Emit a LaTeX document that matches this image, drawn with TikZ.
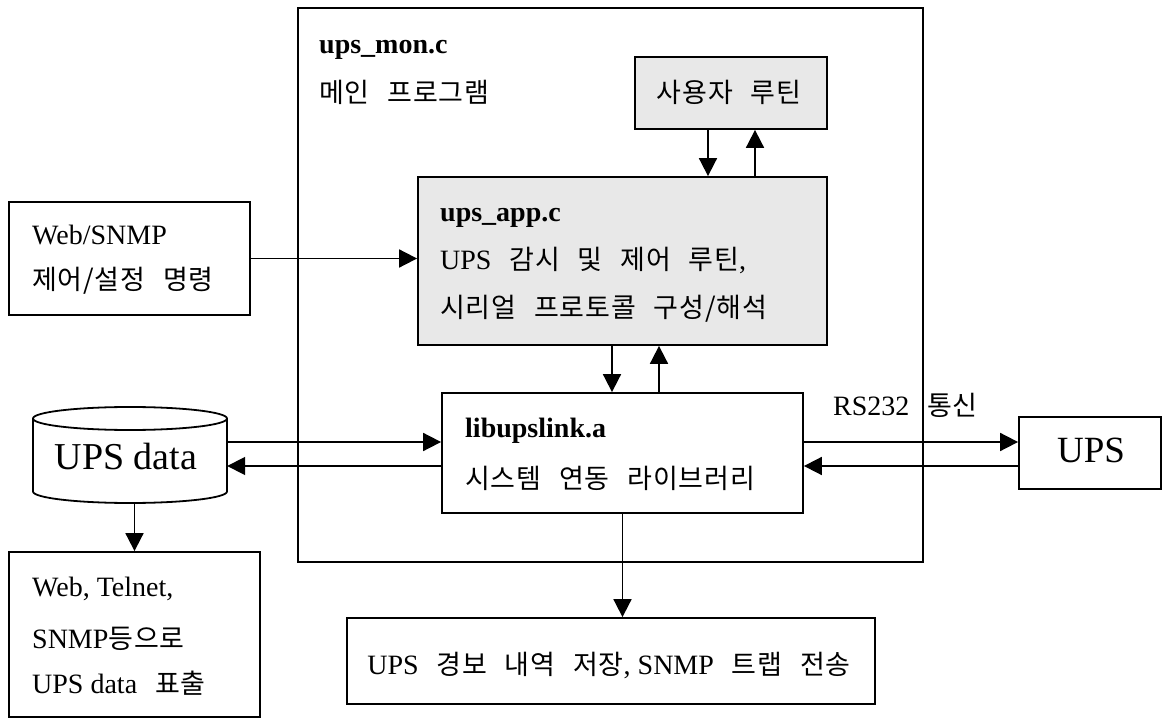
\documentclass[tikz,border=0pt]{standalone}
\usepackage{fontspec}
\setmainfont{Liberation Serif}
\newfontfamily\krfont[WordSpace=2.6,LetterSpace=3]{Noto Sans CJK KR}
\newcommand\K[1]{{\krfont\fontsize{27}{30}\selectfont #1}}
\usetikzlibrary{arrows.meta}
\definecolor{boxgrey}{RGB}{232,232,232}
\tikzset{
  box/.style={draw, line width=1.8pt, fill=white, rectangle, inner sep=0pt},
  greybox/.style={box, fill=boxgrey},
  lbl/.style={anchor=base west, inner sep=0pt},
  clbl/.style={anchor=base, inner sep=0pt},
  arr/.style={-{Triangle[length=18pt,width=18pt]}, line width=1.8pt},
}
\begin{document}
\begin{tikzpicture}[x=1pt, y=-1pt, font=\fontsize{28}{32}\selectfont]
\useasboundingbox (0,0) rectangle (1163,719);

% main program frame
\node[box, minimum width=625pt, minimum height=554pt] (mon) at (610.5,285) {};

% inner modules
\node[greybox, minimum width=192pt, minimum height=72pt] (user) at (731,93) {};
\node[greybox, minimum width=409pt, minimum height=168pt] (app) at (622.5,261) {};
\node[box, minimum width=361pt, minimum height=120pt] (lib) at (622.5,453) {};

% outside blocks
\node[box, minimum width=241pt, minimum height=113pt] (web) at (129.5,258.5) {};
\node[box, minimum width=251pt, minimum height=165pt] (tel) at (134.5,634.5) {};
\node[box, minimum width=142pt, minimum height=72pt] (ups) at (1090,453) {};
\node[box, minimum width=528pt, minimum height=86pt] (alarm) at (611,661) {};

% data store (cylinder)
\node[minimum width=194pt, minimum height=96pt, inner sep=0pt] (db) at (130,455) {};
\draw[line width=1.8pt, fill=white]
  (33,418.5) -- (33,491.5)
  .. controls (33,497.85) and (76.45,503) .. (130,503)
  .. controls (183.55,503) and (227,497.85) .. (227,491.5)
  -- (227,418.5);
\draw[line width=1.8pt, fill=white] (130,418.5) ellipse [x radius=97, y radius=11.5];

% texts
\node[lbl] (tmon) at (319,54) {\bfseries ups\_mon.c};
\node[lbl] (tmain) at (319,103) {\K{메인 프로그램}};
\node[clbl] (tuser) at (729,103) {\K{사용자 루틴}};
\node[lbl] (tapp) at (440,222) {\bfseries ups\_app.c};
\node[lbl] (tapp2) at (440,270) {UPS\K{ 감시 및 제어 루틴},};
\node[lbl] (tapp3) at (440,318) {\K{시리얼 프로토콜 구성/해석}};
\node[lbl] (tlib) at (465,438) {\bfseries libupslink.a};
\node[lbl] (tlib2) at (465,488) {\K{시스템 연동 라이브러리}};
\node[lbl] (tweb) at (32,245) {Web/SNMP};
\node[lbl] (tweb2) at (32,290) {\K{제어/설정 명령}};
\node[clbl] (tdb) at (126,470) {\fontsize{38}{40}\selectfont UPS data};
\node[lbl] (ttel) at (32,596) {Web, Telnet,};
\node[lbl] (ttel2) at (32,648) {SNMP\K{등으로}};
\node[lbl] (ttel3) at (32,693) {UPS data\K{ 표출}};
\node[lbl] (trs) at (833,416) {RS232\K{ 통신}};
\node[clbl] (tups) at (1091,463) {\fontsize{37}{40}\selectfont UPS};
\node[clbl] (talarm) at (609,674) {UPS\K{ 경보 내역 저장}, SNMP\K{ 트랩 전송}};

% connectors
\draw[arr] ([xshift=-23pt]user.south) -- ([xshift=-23pt]user.south |- app.north);
\draw[arr] ([xshift=24pt]user.south |- app.north) -- ([xshift=24pt]user.south);
\draw[arr] ([xshift=-10.5pt]app.south) -- ([xshift=-10.5pt]app.south |- lib.north);
\draw[arr] ([xshift=36.5pt]app.south |- lib.north) -- ([xshift=36.5pt]app.south);
\draw[arr] (web.east) -- (web.east -| app.west);
\draw[arr] ([yshift=11pt]lib.west -| db.east) -- ([yshift=11pt]lib.west);
\draw[arr] ([yshift=-13pt]lib.west) -- ([yshift=-13pt]lib.west -| db.east);
\draw[arr] ([yshift=11pt]lib.east) -- ([yshift=11pt]lib.east -| ups.west);
\draw[arr] ([yshift=-13pt]lib.east -| ups.west) -- ([yshift=-13pt]lib.east);
\draw[arr] (db.south -| tel.north) -- (tel.north);
\draw[arr] (lib.south) -- (lib.south |- alarm.north);
\end{tikzpicture}
\end{document}
